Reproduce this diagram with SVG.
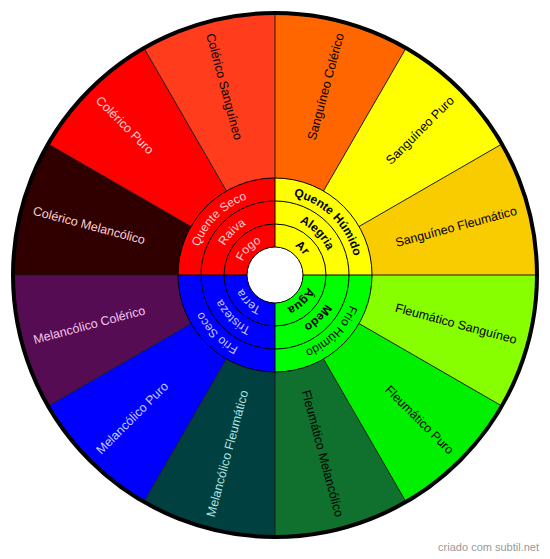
<svg xmlns="http://www.w3.org/2000/svg" width="550" height="559" viewBox="0 0 550 559">
<style>
text{font-family:"Liberation Sans",Arial,Helvetica,sans-serif}
.o{font-size:12.5px}
.i{font-size:12px}
.b{font-weight:bold}
.k{fill:#000}
.lr{fill:#ffd0d0}
.lb{fill:#c8c8ff}
.sep{stroke:#1a1a1a;stroke-width:1;fill:none}
.ring{stroke:#000;stroke-width:1;fill:none}
</style>
<defs>
<path id="tl81" d="M194,275 A81,81 0 0 1 275,194"/>
<path id="tr81" d="M275,194 A81,81 0 0 1 356,275"/>
<path id="br81" d="M356,275 A81,81 0 0 1 275,356"/>
<path id="bl81" d="M275,356 A81,81 0 0 1 194,275"/>
<path id="tl58" d="M217,275 A58,58 0 0 1 275,217"/>
<path id="tr58" d="M275,217 A58,58 0 0 1 333,275"/>
<path id="br58" d="M333,275 A58,58 0 0 1 275,333"/>
<path id="bl58" d="M275,333 A58,58 0 0 1 217,275"/>
<path id="tl35" d="M240,275 A35,35 0 0 1 275,240"/>
<path id="tr35" d="M275,240 A35,35 0 0 1 310,275"/>
<path id="br35" d="M310,275 A35,35 0 0 1 275,310"/>
<path id="bl35" d="M275,310 A35,35 0 0 1 240,275"/>
</defs>

<g id="outer-sectors">
<g id="sanguineo-fleumatico"><path d="M275,275 L537,275 A262,262 0 0 0 501.9,144 Z" fill="#f9cc00"/><text class="o k" text-anchor="end" dy="4.4" transform="translate(516.5,210.3) rotate(-15)">Sanguíneo Fleumático</text></g>
<g id="sanguineo-puro"><path d="M275,275 L501.9,144 A262,262 0 0 0 406,48.1 Z" fill="#ffff00"/><text class="o k" text-anchor="end" dy="4.4" transform="translate(451.8,98.2) rotate(-45)">Sanguíneo Puro</text></g>
<g id="sanguineo-colerico"><path d="M275,275 L406,48.1 A262,262 0 0 0 275,13 Z" fill="#ff6600"/><text class="o k" text-anchor="end" dy="4.4" transform="translate(339.7,33.5) rotate(-75)">Sanguíneo Colérico</text></g>
<g id="colerico-sanguineo"><path d="M275,275 L275,13 A262,262 0 0 0 144,48.1 Z" fill="#ff3c1c"/><text class="o k" dy="4.4" transform="translate(210.3,33.5) rotate(75)">Colérico Sanguíneo</text></g>
<g id="colerico-puro"><path d="M275,275 L144,48.1 A262,262 0 0 0 48.1,144 Z" fill="#ff0000"/><text class="o lr" dy="4.4" transform="translate(98.2,98.2) rotate(45)">Colérico Puro</text></g>
<g id="colerico-melancolico"><path d="M275,275 L48.1,144 A262,262 0 0 0 13,275 Z" fill="#300000"/><text class="o lr" dy="4.4" transform="translate(33.5,210.3) rotate(15)">Colérico Melancólico</text></g>
<g id="melancolico-colerico"><path d="M275,275 L13,275 A262,262 0 0 0 48.1,406 Z" fill="#560c52"/><text class="o" fill="#f0c4f0" dy="4.4" transform="translate(33.5,339.7) rotate(-15)">Melancólico Colérico</text></g>
<g id="melancolico-puro"><path d="M275,275 L48.1,406 A262,262 0 0 0 144,501.9 Z" fill="#0000ff"/><text class="o lb" dy="4.4" transform="translate(98.2,451.8) rotate(-45)">Melancólico Puro</text></g>
<g id="melancolico-fleumatico"><path d="M275,275 L144,501.9 A262,262 0 0 0 275,537 Z" fill="#004040"/><text class="o" fill="#b0e0e0" dy="4.4" transform="translate(210.3,516.5) rotate(-75)">Melancólico Fleumático</text></g>
<g id="fleumatico-melancolico"><path d="M275,275 L275,537 A262,262 0 0 0 406,501.9 Z" fill="#10702e"/><text class="o k" text-anchor="end" dy="4.4" transform="translate(339.7,516.5) rotate(75)">Fleumático Melancólico</text></g>
<g id="fleumatico-puro"><path d="M275,275 L406,501.9 A262,262 0 0 0 501.9,406 Z" fill="#00f000"/><text class="o k" text-anchor="end" dy="4.4" transform="translate(451.8,451.8) rotate(45)">Fleumático Puro</text></g>
<g id="fleumatico-sanguineo"><path d="M275,275 L501.9,406 A262,262 0 0 0 537,275 Z" fill="#88ff00"/><text class="o k" text-anchor="end" dy="4.4" transform="translate(516.5,339.7) rotate(15)">Fleumático Sanguíneo</text></g>
</g>

<g id="connectors">
<path class="sep" d="M537,275 H13 M275,13 V537 M501.9,144 L48.1,406 M406,48.1 L144,501.9 M144,48.1 L406,501.9 M48.1,144 L501.9,406"/>
</g>

<g id="inner">
<g id="quente-seco"><path d="M275,275 L178,275 A97,97 0 0 1 275,178 Z" fill="#ff0000"/>
<text class="i lr"><textPath href="#tl81" startOffset="50%" text-anchor="middle">Quente Seco</textPath></text>
<text class="i lr"><textPath href="#tl58" startOffset="50%" text-anchor="middle">Raiva</textPath></text>
<text class="i lr"><textPath href="#tl35" startOffset="50%" text-anchor="middle">Fogo</textPath></text></g>
<g id="quente-humido"><path d="M275,275 L275,178 A97,97 0 0 1 372,275 Z" fill="#ffff00"/>
<text class="i b k"><textPath href="#tr81" startOffset="50%" text-anchor="middle">Quente Húmido</textPath></text>
<text class="i b k"><textPath href="#tr58" startOffset="50%" text-anchor="middle">Alegria</textPath></text>
<text class="i b k"><textPath href="#tr35" startOffset="50%" text-anchor="middle">Ar</textPath></text></g>
<g id="frio-humido"><path d="M275,275 L372,275 A97,97 0 0 1 275,372 Z" fill="#00ff00"/>
<text class="i k"><textPath href="#br81" startOffset="50%" text-anchor="middle">Frio Húmido</textPath></text>
<text class="i b k"><textPath href="#br58" startOffset="50%" text-anchor="middle">Medo</textPath></text>
<text class="i b k"><textPath href="#br35" startOffset="50%" text-anchor="middle">Água</textPath></text></g>
<g id="frio-seco"><path d="M275,275 L275,372 A97,97 0 0 1 178,275 Z" fill="#0000ff"/>
<text class="i lb"><textPath href="#bl81" startOffset="50%" text-anchor="middle">Frio Seco</textPath></text>
<text class="i lb"><textPath href="#bl58" startOffset="50%" text-anchor="middle">Tristeza</textPath></text>
<text class="i lb"><textPath href="#bl35" startOffset="50%" text-anchor="middle">Terra</textPath></text></g>
<path class="ring" d="M178,275 H372 M275,178 V372"/>
<circle class="ring" cx="275" cy="275" r="97"/>
<circle class="ring" cx="275" cy="275" r="74"/>
<circle class="ring" cx="275" cy="275" r="51"/>
<circle cx="275" cy="275" r="28" fill="#fff" stroke="#000" stroke-width="1"/>
</g>

<circle cx="275" cy="275" r="262" fill="none" stroke="#000" stroke-width="4"/>
<text x="539" y="551" text-anchor="end" font-size="11" fill="#999">criado com subtil.net</text>
</svg>
